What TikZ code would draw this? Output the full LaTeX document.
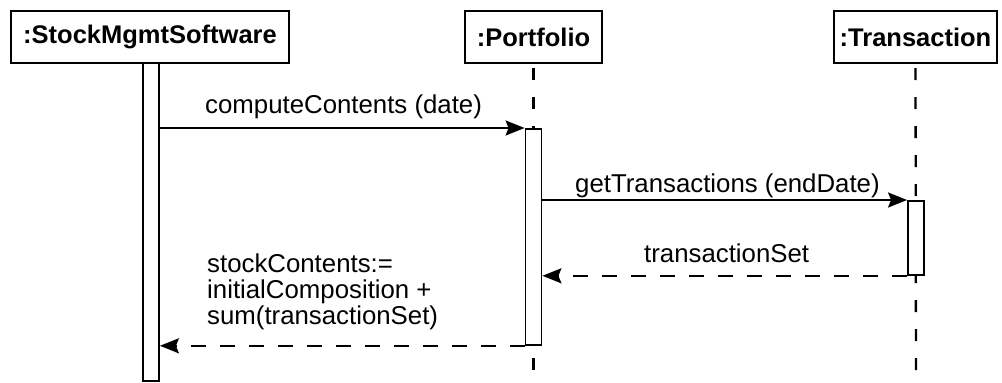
\documentclass[tikz,border=0pt]{standalone}
\usepackage{fontspec}
\setmainfont{Liberation Sans}
\usetikzlibrary{arrows.meta}
\begin{document}
\begin{tikzpicture}[x=1pt,y=-1pt,
  txt/.style={font=\fontsize{25.8}{26}\selectfont, inner sep=0pt},
  objbox/.style={draw, line width=2.2pt, inner sep=0pt, minimum height=52pt, font=\fontsize{25.5}{26}\selectfont\bfseries, anchor=north},
  actbar/.style={draw, fill=white, line width=1.8pt, inner sep=0pt, minimum width=16pt, anchor=north},
  lifeline/.style={line width=2.3pt, dash pattern=on 12pt off 17pt, dash phase=-4pt},
  callmsg/.style={line width=2.2pt, -{Stealth[length=19pt,width=15pt,inset=3pt]}},
  retmsg/.style={line width=2.2pt, dash pattern=on 15pt off 14pt, -{Stealth[length=19pt,width=15pt,inset=3pt]}}
]
\useasboundingbox (0,0) rectangle (1002,383);

% objects
\node[objbox, minimum width=278pt] (soft) at (150,10) {:StockMgmtSoftware};
\node[objbox, minimum width=137pt] (port) at (533.5,10) {:Portfolio};
\node[objbox, minimum width=163pt] (trans) at (915.5,10) {:Transaction};

% lifeline ends
\coordinate (pend) at (533.5,383);
\coordinate (tend) at (916,383);
\draw[lifeline] (port.south) -- (pend);
\draw[lifeline] (trans.south) -- (tend);

% activation bars
\node[actbar, minimum height=318pt] (sbar) at (151,62) {};
\node[actbar, minimum height=216pt] (pbar) at (533.5,128) {};
\node[actbar, minimum height=74pt] (tbar) at (916,200) {};

% messages
\draw[callmsg] (sbar.east |- pbar.north west) -- (pbar.north west);
\draw[callmsg] (pbar.east |- tbar.north west) -- (tbar.north west);
\draw[retmsg] (tbar.south west) -- (pbar.east |- tbar.south west);
\draw[retmsg] (pbar.south west) -- (sbar.east |- pbar.south west);

% labels
\node[txt, anchor=base west] (l1) at (205,113) {computeContents (date)};
\node[txt, anchor=base west] (l2) at (575,192) {getTransactions (endDate)};
\node[txt, anchor=base west] (l3) at (644,262) {transactionSet};
\node[txt, anchor=north west, align=left] (l4) at (207,254) {stockContents:=\\initialComposition +\\sum(transactionSet)};
\end{tikzpicture}
\end{document}
